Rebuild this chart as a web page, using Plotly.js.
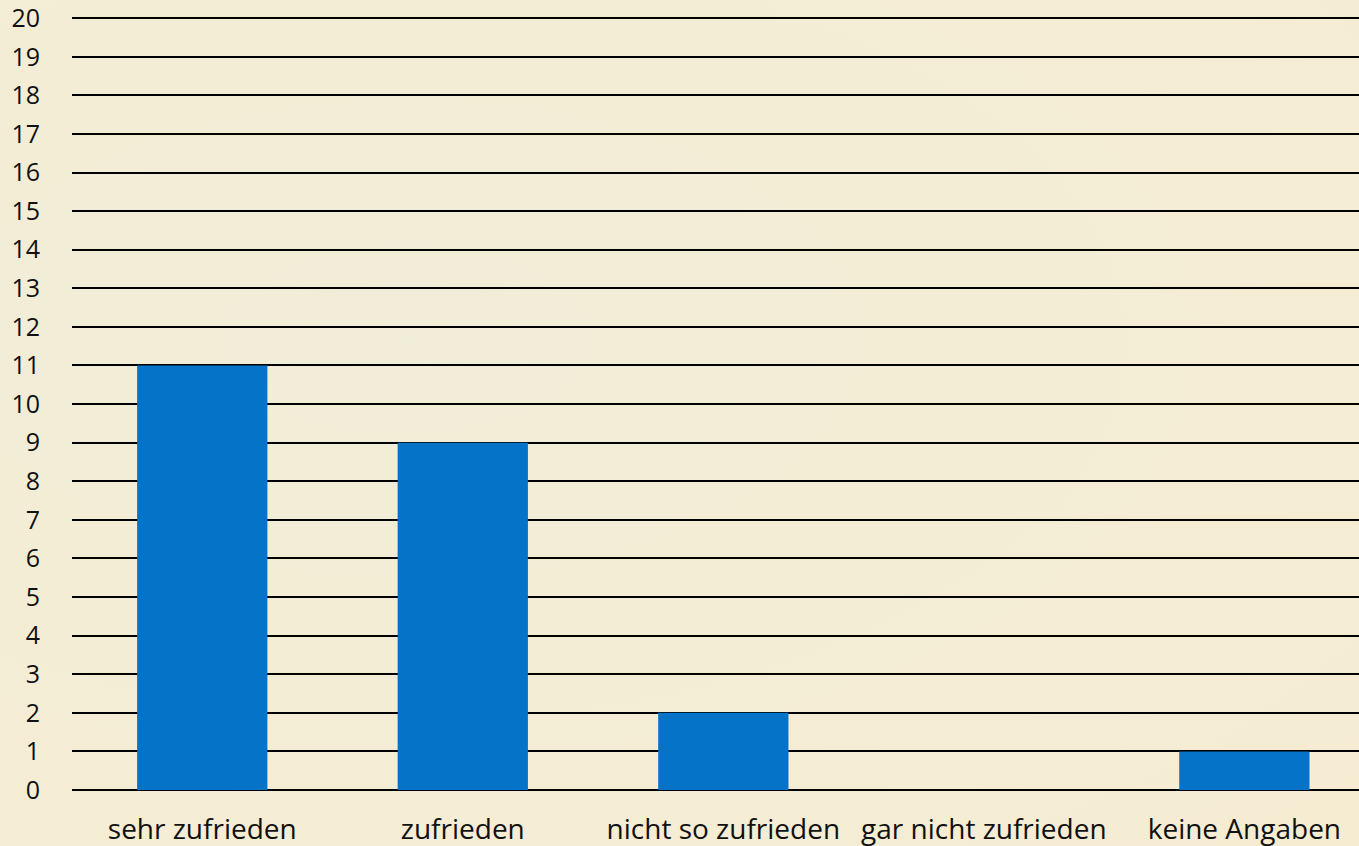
<!DOCTYPE html>
<html><head><meta charset="utf-8">
<script src="https://cdn.plot.ly/plotly-3.0.1.min.js"></script>
<style>html,body{margin:0;padding:0;background:#F3EDD6;}
#chart{width:1359px;height:846px;background:radial-gradient(ellipse at 30% 40%, #F0EDD8 0%, #F4EDD5 50%, #F5ECD2 100%);}</style>
</head><body><div id="chart"></div>
<script>
const categories = ["sehr zufrieden", "zufrieden", "nicht so zufrieden", "gar nicht zufrieden", "keine Angaben"];
const values = [11, 9, 2, 0, 1];
const yTicks = [0,1,2,3,4,5,6,7,8,9,10,11,12,13,14,15,16,17,18,19,20];

const trace = {
  type: 'bar', x: categories, y: values,
  marker: {color: '#0473C8', line: {width: 0}},
  hoverinfo: 'skip'
};
const layout = {
  width: 1359, height: 846,
  margin: {l: 72, r: 0, t: 17, b: 56},
  paper_bgcolor: 'rgba(0,0,0,0)', plot_bgcolor: 'rgba(0,0,0,0)',
  bargap: 0.5, showlegend: false,
  font: {family: 'Open Sans, sans-serif', color: '#111111'},
  xaxis: {
    type: 'category', range: [-0.5, 4.44],
    showgrid: false, zeroline: false, showline: false,
    ticks: '', tickfont: {size: 28, color: '#111111'}, ticklabelstandoff: 20,
    ticklabeloverflow: 'allow'
  },
  yaxis: {
    range: [0, 20.03], tickvals: yTicks, ticktext: yTicks.map(String),
    showgrid: true, gridcolor: '#000000', gridwidth: 2,
    zeroline: true, zerolinecolor: '#000000', zerolinewidth: 2.5,
    showline: false, ticks: '', tickfont: {size: 25, color: '#111111'},
    ticklabelstandoff: 31, ticklabeloverflow: 'allow'
  }
};
Plotly.newPlot('chart', [trace], layout, {displayModeBar: false, staticPlot: true});
</script></body></html>
